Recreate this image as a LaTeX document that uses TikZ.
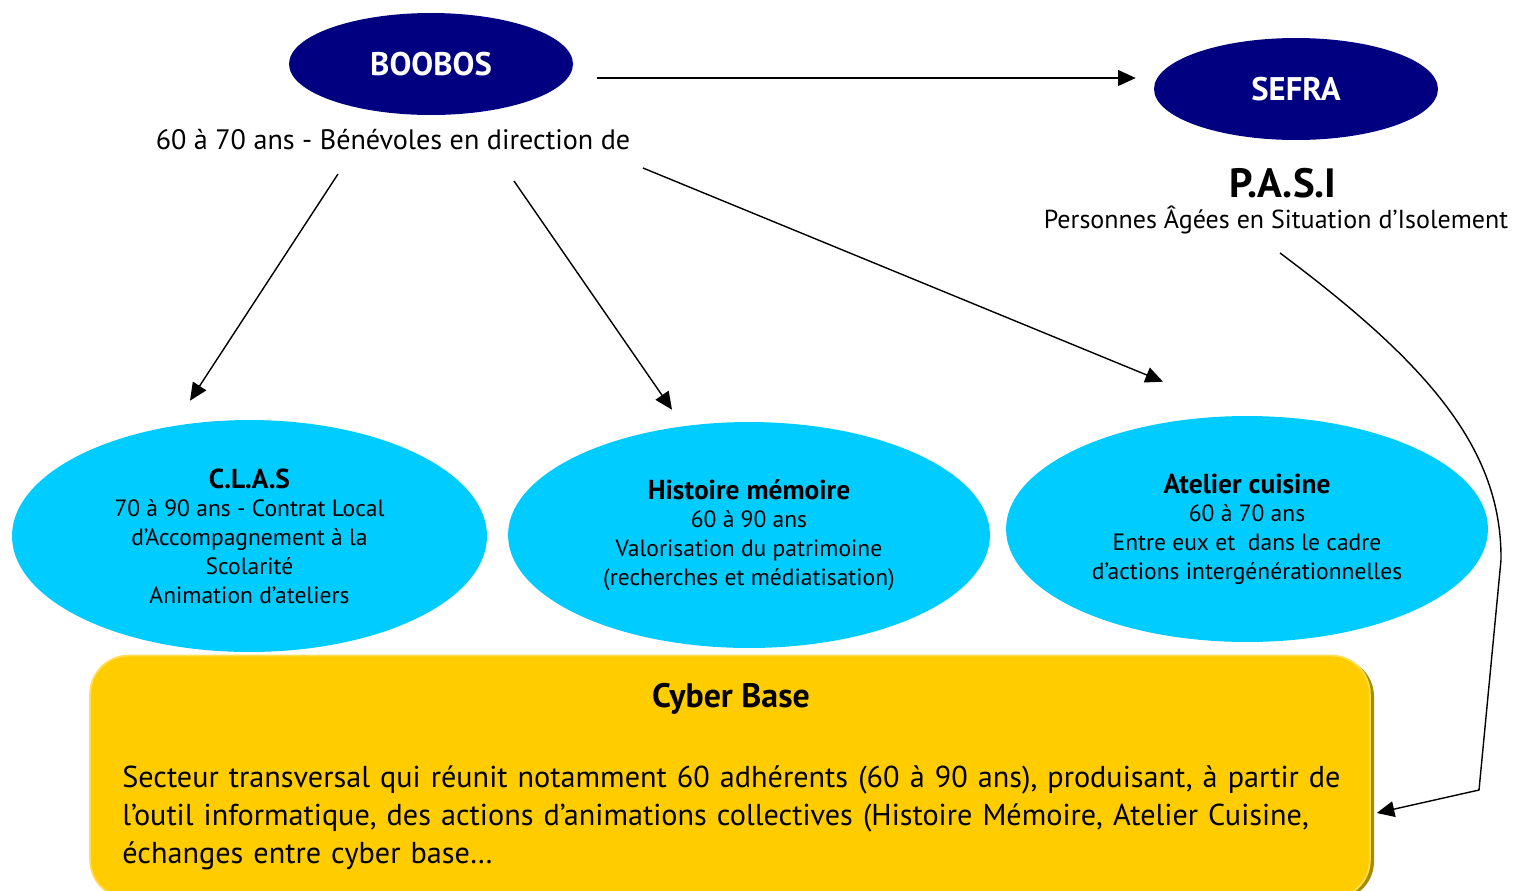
\documentclass[tikz,border=0pt]{standalone}
\usepackage{fontspec}
\setmainfont{PT Sans}
\usetikzlibrary{positioning}
\usetikzlibrary{arrows.meta}
\usetikzlibrary{shapes.geometric}
\definecolor{marine}{HTML}{000080}
\definecolor{ciel}{HTML}{00CCFF}
\definecolor{jaune}{HTML}{FFCC00}
\definecolor{ombre}{HTML}{A88C00}
\definecolor{reflet}{HTML}{FFDD55}
\newcommand{\titreaction}[1]{{\bfseries\fontsize{15.6}{16.4}\selectfont #1}}

\begin{document}
\begin{tikzpicture}[x=0.02cm, y=-0.02cm,
		fleche/.style={-{Triangle[length=10pt,width=9pt]}, line width=0.8pt},
		chef/.style={ellipse, fill=marine, text=white, inner sep=0pt,
			font=\bfseries\fontsize{18.6}{22}\selectfont,
			minimum width=5.68cm, minimum height=2.04cm},
		action/.style={ellipse, fill=ciel, inner sep=0pt, align=center,
			font=\fontsize{13.4}{16.4}\selectfont,
			minimum width=9.64cm, minimum height=4.52cm},
		legende/.style={inner sep=0pt, align=center, font=\fontsize{16}{19}\selectfont}]
			%\draw[step=50,gray,very thin] (0,0) grid (1514,890);
			\clip (0,0) rectangle (1514,890);
			\node[chef] (boobos) at (431,64) {BOOBOS};
			\node[chef] (sefra) at (1296,89) {SEFRA};
			\node[legende] (benevoles) at (393,140) {60 à 70 ans - Bénévoles en direction de};
			\node[legende, font=\bfseries\fontsize{23.3}{27}\selectfont] (pasi) at (1283,183) {P.A.S.I};
			\node[legende, font=\fontsize{14.8}{17}\selectfont] (isolement) at (1276,220) {Personnes Âgées en Situation d’Isolement};
			\node[action, minimum width=9.5cm, minimum height=4.64cm] (clas) at (249.5,536)
				{\titreaction{C.L.A.S}\\70 à 90 ans - Contrat Local\\d’Accompagnement à la\\Scolarité\\Animation d’ateliers};
			\node[action] (histoire) at (749,535)
				{\titreaction{Histoire mémoire}\\60 à 90 ans\\Valorisation du patrimoine\\(recherches et médiatisation)};
			\node[action] (cuisine) at (1247,529)
				{\titreaction{Atelier cuisine}\\60 à 70 ans\\Entre eux et \ dans le cadre\\d’actions intergénérationnelles};
			% cyber base
			\fill[ombre, rounded corners=22pt] (93,658) rectangle (1374,900);
			\node[draw=reflet, line width=1pt, fill=jaune, rounded corners=22pt,
				minimum width=25.6cm, minimum height=4.86cm] (cyber) at (730,777) {};
			\node[legende, font=\bfseries\fontsize{19.3}{23}\selectfont] (cybertitre) at (731,699) {Cyber Base};
			\node[inner sep=0pt, anchor=north west, text width=25cm, align=left,
				font=\fontsize{17.2}{21.8}\selectfont] (cybertexte) at (122,765)
				{Secteur transversal qui réunit notamment 60 adhérents (60 à 90 ans), produisant, à partir de\\
				l’outil informatique, des actions d’animations collectives (Histoire Mémoire, Atelier Cuisine,\\
				échanges entre cyber base…};
			% fleches
			\draw[fleche] ([shift={(24,14)}]boobos.east) -- ([shift={(-18,-11)}]sefra.west);
			\draw[fleche] ([shift={(-55,34)}]benevoles.center) -- ([shift={(-59.5,-19)}]clas.north);
			\draw[fleche] ([shift={(121,41)}]benevoles.center) -- ([shift={(-77,-12)}]histoire.north);
			\draw[fleche] ([shift={(250,28)}]benevoles.center) -- ([shift={(-84,-34)}]cuisine.north);
			\draw[fleche] ([shift={(4,33)}]isolement.center) .. controls (1430,365) and (1502,450) .. (1501,560)
				-- (1479,790) -- ([shift={(6,36)}]cyber.east);
		\end{tikzpicture}
\end{document}
